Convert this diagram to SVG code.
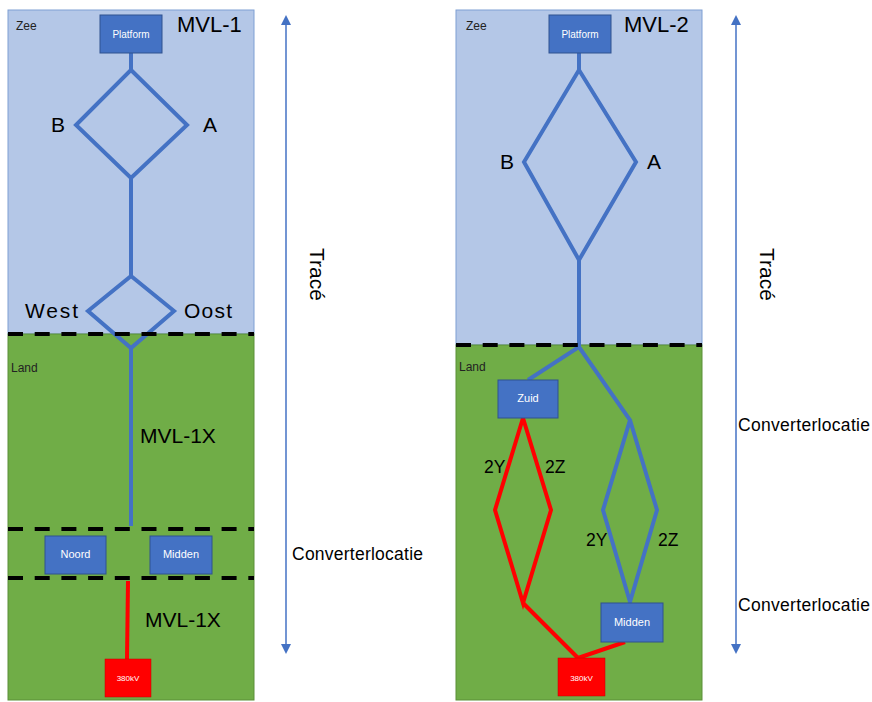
<svg xmlns="http://www.w3.org/2000/svg" width="872" height="702" viewBox="0 0 872 702">
<defs>
<style>
.sea{fill:#B4C7E7;stroke:#7F9FD3;stroke-width:1}
.land{fill:#70AD47;stroke:#5B8F38;stroke-width:1}
.box{fill:#4472C4;stroke:#2F528F;stroke-width:1}
.red{fill:#FF0000;stroke:#C00000;stroke-width:0.5}
.bl{fill:none;stroke:#4472C4;stroke-width:4;stroke-linejoin:miter}
.rl{fill:none;stroke:#FF0000;stroke-width:4}
.dash{stroke:#000;stroke-width:4;stroke-dasharray:15 11.7}
.arr{stroke:#4472C4;stroke-width:1.5}
text{font-family:"Liberation Sans",Arial,sans-serif}
.small{font-size:12px;fill:#222}
.wt{font-size:10px;fill:#fff;text-anchor:middle}
.big{font-size:22px;fill:#000}
.lbl{font-size:21px;fill:#000}
.mid{font-size:17.5px;fill:#000}
</style>
<marker id="ah" markerWidth="10" markerHeight="10" refX="5" refY="5" orient="auto-start-reverse" markerUnits="userSpaceOnUse">
<path d="M0,0 L10,5 L0,10 z" fill="#4472C4"/>
</marker>
</defs>

<g id="panel-left">
<rect class="sea" x="8" y="10" width="246" height="324"/>
<rect class="land" x="8" y="334" width="246" height="366"/>
<text class="small" x="16" y="30">Zee</text>
<text class="small" x="11" y="372">Land</text>
<text class="big" x="177" y="32">MVL-1</text>
</g>

<g id="panel-right">
<rect class="sea" x="456" y="10" width="246" height="335"/>
<rect class="land" x="456" y="345" width="246" height="355"/>
<text class="small" x="466" y="30">Zee</text>
<text class="small" x="459" y="371">Land</text>
<text class="big" x="624" y="32">MVL-2</text>
</g>

<g id="connectors">
<path class="bl" d="M131,53 V70 L76,125 L131,178 L187,125 L131,70"/>
<path class="bl" d="M131,178 V276 L88,311 L131,348 L174,311 L131,276"/>
<path class="bl" d="M131,348 V526"/>
<path class="rl" d="M128,581 L127,659"/>
<path class="bl" d="M579,53 V70 L524,162 L579,260 L636,162 L579,70"/>
<path class="bl" d="M579,260 V347 L528,380"/>
<path class="bl" d="M579,347 L630,420 L603,510 L630,602 L657,510 L630,420"/>
<path class="rl" d="M523,418 L495,510 L523,603 L551,510 Z"/>
<path class="rl" d="M523,603 L578,658"/>
<path class="rl" d="M625,642 L578,658"/>
<line class="dash" x1="8" y1="334" x2="254" y2="334"/>
<line class="dash" x1="8" y1="529" x2="254" y2="529"/>
<line class="dash" x1="8" y1="578" x2="254" y2="578"/>
<line class="dash" x1="456" y1="345" x2="702" y2="345"/>
<line class="arr" x1="286" y1="20" x2="286" y2="649" marker-start="url(#ah)" marker-end="url(#ah)"/>
<line class="arr" x1="736" y1="20" x2="736" y2="649" marker-start="url(#ah)" marker-end="url(#ah)"/>
</g>

<g id="platform-1"><rect class="box" x="100" y="15" width="62" height="38"/><text class="wt" x="131" y="38">Platform</text></g>
<g id="noord"><rect class="box" x="45" y="536" width="61" height="38"/><text class="wt" x="75.5" y="558" style="font-size:11px">Noord</text></g>
<g id="midden-1"><rect class="box" x="150" y="536" width="62" height="38"/><text class="wt" x="181" y="558" style="font-size:11px">Midden</text></g>
<g id="kv380-1"><rect class="red" x="105" y="659" width="46" height="38"/><text class="wt" x="128" y="681" style="font-size:8px">380kV</text></g>

<g id="platform-2"><rect class="box" x="549" y="15" width="62" height="38"/><text class="wt" x="580" y="38">Platform</text></g>
<g id="zuid"><rect class="box" x="498" y="380" width="60" height="38"/><text class="wt" x="528" y="402" style="font-size:11px">Zuid</text></g>
<g id="midden-2"><rect class="box" x="601" y="603" width="62" height="39"/><text class="wt" x="632" y="626" style="font-size:11px">Midden</text></g>
<g id="kv380-2"><rect class="red" x="558" y="658" width="47" height="38"/><text class="wt" x="581.5" y="681" style="font-size:8px">380kV</text></g>

<g id="labels">
<text class="lbl" x="51" y="132">B</text>
<text class="lbl" x="203" y="132">A</text>
<text class="lbl" x="25" y="318" textLength="53">West</text>
<text class="lbl" x="184" y="318" textLength="48">Oost</text>
<text class="lbl" x="140" y="443">MVL-1X</text>
<text class="lbl" x="145" y="627">MVL-1X</text>
<text class="lbl" x="500" y="169">B</text>
<text class="lbl" x="647" y="169">A</text>
<text class="mid" x="484" y="473">2Y</text>
<text class="mid" x="545" y="473">2Z</text>
<text class="mid" x="586" y="546">2Y</text>
<text class="mid" x="658" y="546">2Z</text>
<text class="mid" x="292" y="560" textLength="131">Converterlocatie</text>
<text class="mid" x="738" y="431" textLength="132">Converterlocatie</text>
<text class="mid" x="738" y="611" textLength="132">Converterlocatie</text>
<text class="lbl" transform="translate(310,248) rotate(90)">Tracé</text>
<text class="lbl" transform="translate(760,248) rotate(90)">Tracé</text>
</g>
</svg>
